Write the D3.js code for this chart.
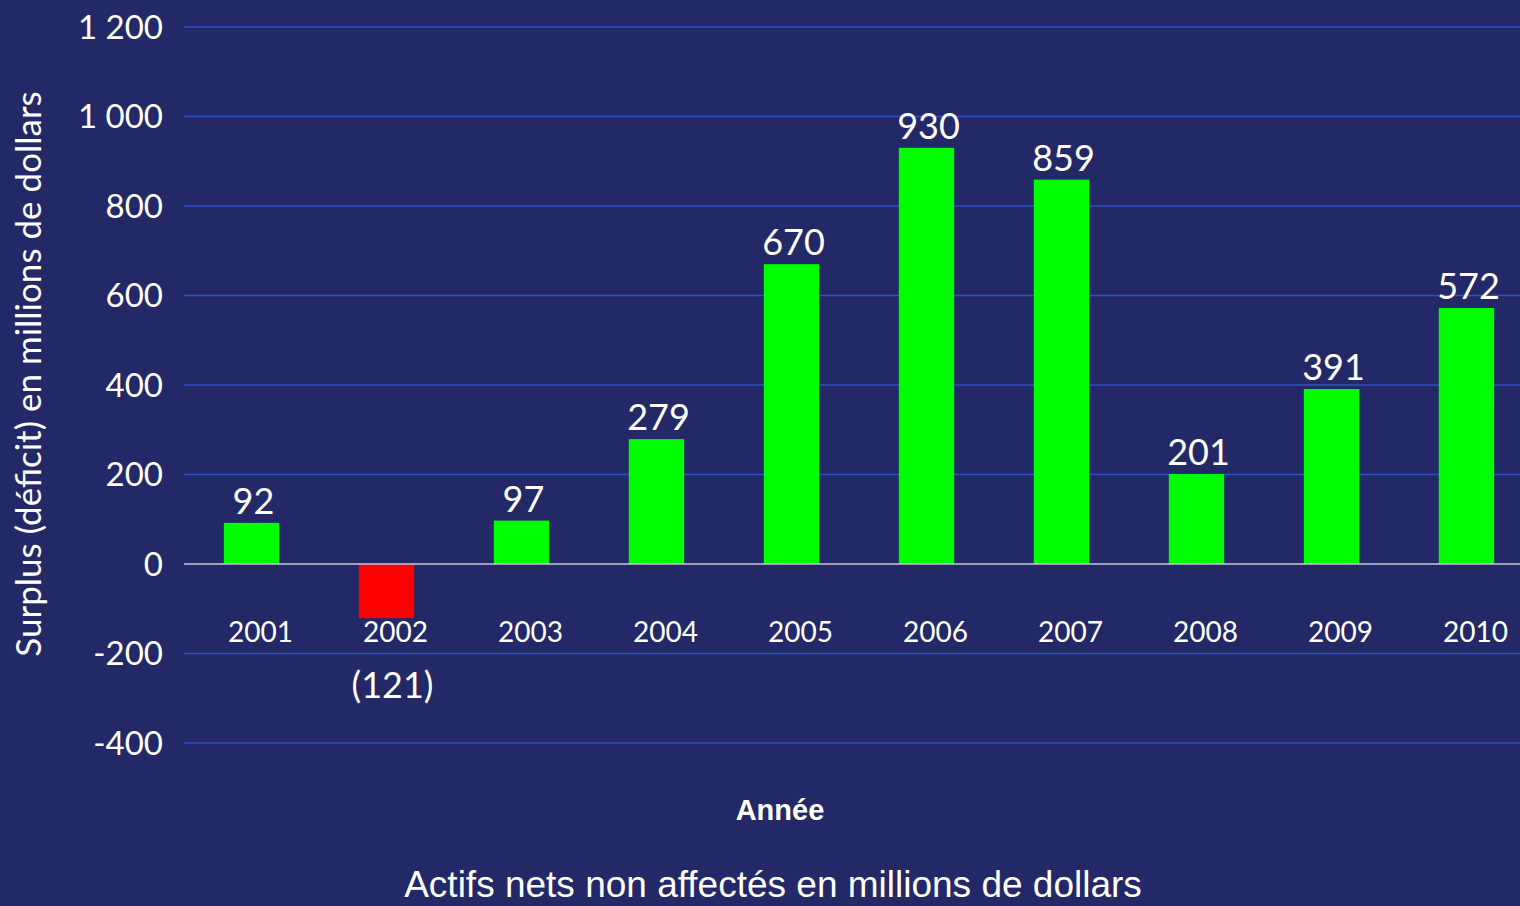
<!DOCTYPE html>
<html><head><meta charset="utf-8">
<script src="https://cdn.jsdelivr.net/npm/d3@7"></script>
<style>
html,body{margin:0;padding:0;background:#232966;overflow:hidden}
svg{display:block}
</style></head>
<body>
<svg id="chart" width="1520" height="906"></svg>
<script>
const years = ["2001","2002","2003","2004","2005","2006","2007","2008","2009","2010"];
const values = [92,-121,97,279,670,930,859,201,391,572];
const valueLabels = ["92","(121)","97","279","670","930","859","201","391","572"];
const yTicks = [-400,-200,0,200,400,600,800,1000,1200];
const yTickLabels = ["-400","-200","0","200","400","600","800","1 000","1 200"];
const yTitle = "Surplus (déficit) en millions de dollars";
const xTitle = "Année";
const chartTitle = "Actifs nets non affectés en millions de dollars";

const svg = d3.select("#chart");
const W = 1520, H = 906;
svg.append("rect").attr("width",W).attr("height",H).attr("fill","#232966");

const x = d3.scaleBand().domain(years).range([184,1534]).paddingInner(0.59).paddingOuter(0.295);
const y = d3.scaleLinear().domain([-400,1200]).range([743,27]);

const font = "Lato, 'Open Sans', sans-serif";

// gridlines
svg.append("g").selectAll("line").data(yTicks.filter(d=>d!==0)).join("line")
  .attr("x1",184).attr("x2",W).attr("y1",d=>y(d)).attr("y2",d=>y(d))
  .attr("stroke","#2f4fc8").attr("stroke-width",1.5);

// y tick labels
svg.append("g").selectAll("text").data(yTicks).join("text")
  .attr("x",163).attr("y",d=>y(d)).attr("dy","0.36em")
  .attr("text-anchor","end").attr("fill","#fff")
  .style("font-family",font).style("font-size","33px")
  .text((d,i)=>yTickLabels[i]);

// bars
svg.append("g").selectAll("rect").data(values).join("rect")
  .attr("x",(d,i)=>x(years[i])).attr("width",x.bandwidth())
  .attr("y",d=>d>=0?y(d):y(0)).attr("height",d=>Math.abs(y(d)-y(0)))
  .attr("fill",d=>d>=0?"#00ff00":"#ff0000");

// zero line
svg.append("line").attr("x1",184).attr("x2",W).attr("y1",y(0)).attr("y2",y(0))
  .attr("stroke","#c8c8d8").attr("stroke-width",1.5);

// category labels
svg.append("g").selectAll("text").data(years).join("text")
  .attr("x",d=>x(d)+x.bandwidth()/2+9).attr("y",632).attr("dy","0.36em")
  .attr("text-anchor","middle").attr("fill","#fff")
  .style("font-family",font).style("font-size","28px")
  .text(d=>d);

// value labels
svg.append("g").selectAll("text").data(values).join("text")
  .attr("x",(d,i)=>x(years[i])+x.bandwidth()/2+(d>=0?2:6))
  .attr("y",d=>d>=0?y(d)-9:y(-200)+44)
  .attr("text-anchor","middle").attr("fill","#fff")
  .style("font-family",font).style("font-size","36px")
  .text((d,i)=>valueLabels[i]);

// y title
svg.append("text").attr("transform","translate(41,374) rotate(-90)")
  .attr("text-anchor","middle").attr("fill","#fff")
  .style("font-family",font).style("font-size","35px")
  .text(yTitle);

// x title
svg.append("text").attr("x",780).attr("y",820).attr("text-anchor","middle")
  .attr("fill","#fff").style("font-family","'Liberation Sans', Arial, sans-serif")
  .style("font-size","29px").style("font-weight","bold").text(xTitle);

// chart title
svg.append("text").attr("x",773).attr("y",897).attr("text-anchor","middle")
  .attr("fill","#fff").style("font-family","'Liberation Sans', Arial, sans-serif")
  .style("font-size","37px").text(chartTitle);
</script>
</body></html>
